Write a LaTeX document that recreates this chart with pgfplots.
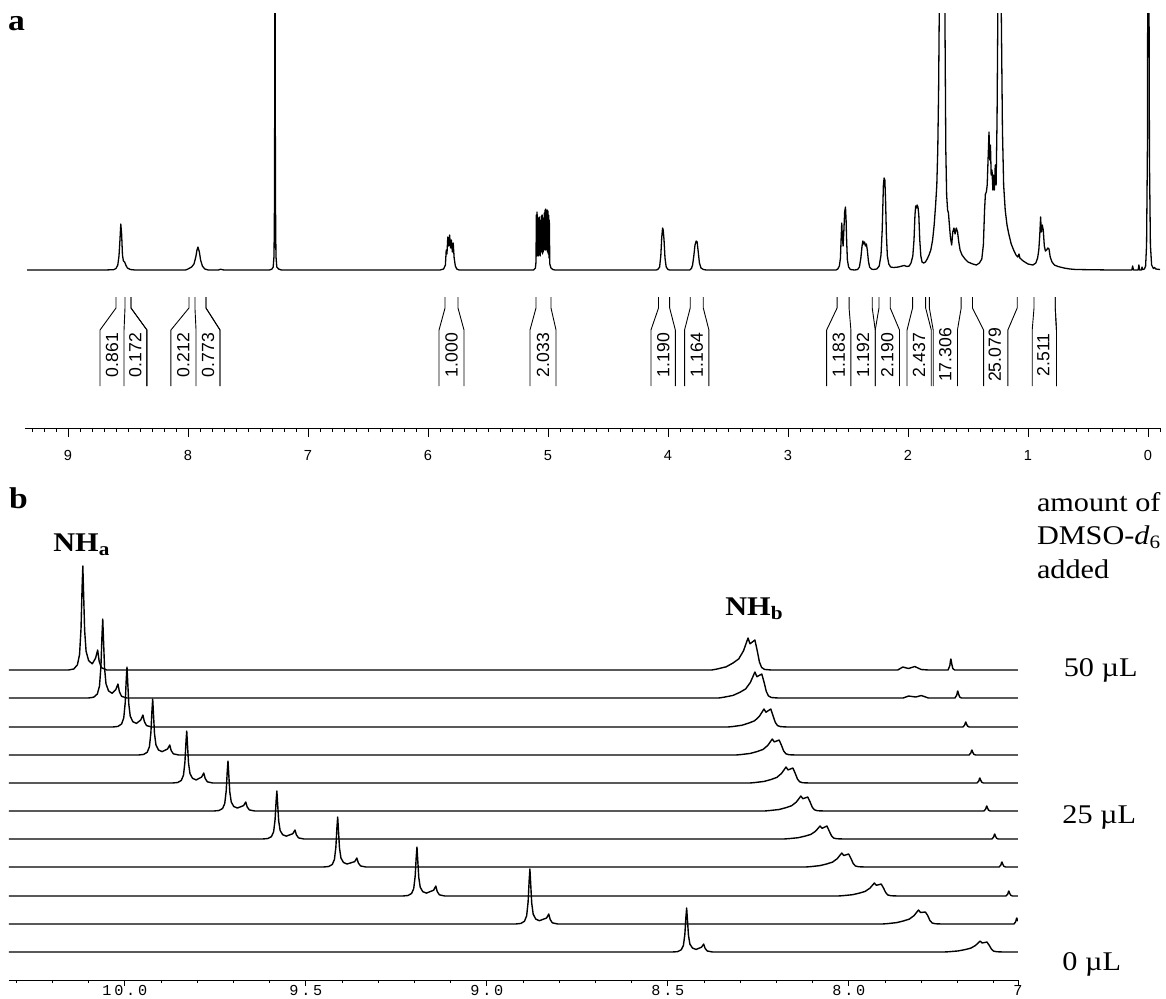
\documentclass[border=0pt]{standalone}
\usepackage{fontspec}
\setmainfont{Liberation Serif}
\newfontfamily\labfont{Liberation Serif}[FakeStretch=1.12]
\newfontfamily\sansA{Liberation Sans}
\newfontfamily\monoB{Liberation Mono}[LetterSpace=18]
\usepackage{pgfplots}
\usepackage{pgfplotstable}
\pgfplotsset{compat=1.18}

% panel a: 1H spectrum, x = ppm, y = intensity above baseline (px of the scan)
\pgfplotstableread{
x y
9.340 0
8.700 0
8.620 0.3
8.600 1.5
8.585 5
8.575 14
8.567 30
8.560 46
8.553 36
8.546 15
8.538 9
8.528 8
8.518 5
8.505 2
8.480 0.5
8.440 0
8.020 0
8.000 1
7.970 3
7.950 6
7.935 13
7.925 20
7.917 23
7.905 18
7.895 10
7.880 4
7.860 1
7.830 0
7.745 0
7.730 0.8
7.700 0
7.320 0
7.300 1
7.290 3
7.283 14
7.279 70
7.275 320
7.271 70
7.267 14
7.260 3
7.245 1
7.220 0
5.900 0
5.870 1
5.855 5
5.848 20
5.842 16
5.835 33
5.828 24
5.820 35
5.812 22
5.805 30
5.797 18
5.790 27
5.782 12
5.772 4
5.760 1
5.740 0
5.120 0
5.105 2
5.100 8
5.097 55
5.094 14
5.091 58
5.088 16
5.085 50
5.082 14
5.079 52
5.076 18
5.073 53
5.070 15
5.067 48
5.064 14
5.061 50
5.058 18
5.055 54
5.052 20
5.049 55
5.046 16
5.043 50
5.040 18
5.037 52
5.034 20
5.031 57
5.028 22
5.025 60
5.022 20
5.019 61
5.016 22
5.013 58
5.010 20
5.007 60
5.004 18
5.001 59
4.998 16
4.995 55
4.992 12
4.989 50
4.985 6
4.975 2
4.960 0.5
4.940 0
4.100 0
4.085 0.5
4.070 3
4.060 14
4.052 33
4.045 42
4.040 40
4.033 30
4.025 12
4.015 3
4.000 0.5
3.985 0
3.820 0
3.805 1.5
3.795 5
3.785 14
3.775 25
3.765 29
3.757 28
3.748 18
3.738 7
3.725 2
3.705 0.5
3.680 0
2.600 0
2.585 1
2.572 4
2.563 12
2.557 32
2.552 47
2.547 33
2.541 24
2.535 38
2.528 58
2.521 63
2.516 50
2.511 28
2.505 10
2.495 3
2.480 0.5
2.445 0
2.420 0.5
2.405 3
2.393 12
2.383 24
2.376 29
2.369 26
2.362 28
2.355 24
2.347 26
2.339 20
2.330 9
2.320 3
2.305 1
2.290 0.5
2.260 1
2.240 4
2.225 15
2.215 40
2.205 85
2.199 92
2.193 90
2.187 70
2.180 35
2.172 14
2.160 6
2.145 3
2.120 2.5
2.080 3
2.050 4
2.030 4.5
2.010 3.5
1.990 4
1.975 7
1.960 14
1.950 30
1.942 55
1.936 64
1.930 62
1.924 65
1.917 63
1.910 55
1.902 30
1.893 14
1.883 8
1.870 7
1.855 8
1.840 11
1.825 15
1.810 20
1.795 30
1.782 45
1.770 65
1.760 85
1.752 120
1.745 180
1.738 280
1.730 400
1.715 420
1.700 350
1.692 250
1.685 120
1.678 75
1.670 60
1.663 57
1.655 45
1.646 32
1.636 25
1.627 38
1.617 42
1.608 36
1.598 42
1.587 38
1.577 28
1.566 20
1.550 15
1.525 11
1.500 8
1.460 6
1.430 5
1.405 7
1.385 11
1.372 25
1.362 60
1.355 76
1.347 78
1.340 85
1.333 110
1.325 138
1.319 110
1.313 125
1.307 95
1.300 100
1.293 80
1.287 95
1.280 80
1.273 105
1.266 85
1.258 150
1.250 280
1.242 420
1.232 400
1.222 250
1.213 140
1.203 85
1.190 60
1.175 45
1.160 36
1.140 26
1.120 20
1.100 15
1.085 13
1.075 16
1.068 12
1.040 9
1.000 6
0.960 5
0.935 7
0.920 12
0.910 20
0.902 35
0.895 53
0.889 38
0.881 45
0.873 40
0.864 24
0.855 19
0.845 20
0.835 22
0.825 21
0.815 13
0.800 8
0.780 5
0.750 3.5
0.700 2
0.650 1
0.600 0.5
0.300 0
0.135 0
0.128 4
0.121 0
0.082 0
0.076 5
0.070 0
0.055 0
0.050 3
0.045 0.5
0.030 1
0.020 4
0.012 25
0.005 120
0.000 420
-0.006 380
-0.012 110
-0.020 25
-0.030 5
-0.045 1.5
-0.055 2.5
-0.065 1
-0.100 0.5
}\specA

% panel b: one table per trace, 50 uL (tA) down to 0 uL (tK)
\pgfplotstableread{
x y
10.320 0
10.156 0
10.141 1.0
10.131 5.2
10.125 15.6
10.121 41.6
10.118 83.2
10.116 104
10.114 78
10.111 39.5
10.107 18.7
10.100 9.4
10.090 6.2
10.081 11.7
10.075 20
10.071 9
10.065 2.4
10.050 0
8.379 0
8.364 1.0
8.339 3.2
8.320 7.0
8.304 11.2
8.291 19.2
8.2785 32
8.273 26.2
8.2595 30
8.253 19.2
8.247 8
8.241 2.6
8.233 0.6
8.214 0
7.865 0
7.851 3
7.835 1.5
7.818 3.5
7.800 0.5
7.780 0
7.726 0
7.721 4.4
7.719 9.9
7.718 11
7.716 6.6
7.713 1.7
7.708 0
7.533 0
}\tA
\pgfplotstableread{
x y
10.320 0
10.101 0
10.086 0.8
10.076 4.0
10.070 11.9
10.066 31.6
10.063 63.2
10.061 79
10.059 59.3
10.056 30.0
10.052 14.2
10.045 7.1
10.035 4.7
10.025 8.4
10.019 14
10.015 6.3
10.009 1.7
9.994 0
8.360 0
8.345 0.8
8.320 2.6
8.301 5.7
8.285 9.1
8.272 15.6
8.2595 26
8.254 21.3
8.2405 24
8.234 15.6
8.228 6.5
8.222 2.1
8.214 0.5
8.195 0
7.850 0
7.835 2
7.815 1
7.800 2.5
7.780 0
7.707 0
7.702 2.8
7.700 6.3
7.699 7
7.697 4.2
7.694 1.1
7.689 0
7.533 0
}\tB
\pgfplotstableread{
x y
10.320 0
10.034 0
10.019 0.6
10.009 3
10.003 9
9.999 24
9.996 48
9.994 60
9.992 45
9.989 22.8
9.985 10.8
9.978 5.4
9.968 3.6
9.956 7.0
9.950 12
9.946 5.4
9.940 1.4
9.925 0
8.335 0
8.320 0.5
8.295 1.8
8.276 4
8.260 6.3
8.247 10.8
8.2345 18
8.229 14.8
8.2155 18
8.209 10.8
8.203 4.5
8.197 1.4
8.189 0.4
8.170 0
7.685 0
7.680 2
7.678 4.5
7.677 5
7.675 3
7.672 0.8
7.667 0
7.533 0
}\tC
\pgfplotstableread{
x y
10.320 0
9.963 0
9.948 0.6
9.938 2.8
9.932 8.4
9.928 22.4
9.925 44.8
9.923 56
9.921 42
9.918 21.3
9.914 10.1
9.907 5.0
9.897 3.4
9.882 6.0
9.876 10
9.872 4.5
9.866 1.2
9.851 0
8.312 0
8.297 0.5
8.272 1.6
8.253 3.5
8.237 5.6
8.224 9.6
8.2115 16
8.206 13.1
8.1925 15
8.186 9.6
8.180 4
8.174 1.3
8.166 0.3
8.147 0
7.668 0
7.663 2
7.661 4.5
7.660 5
7.658 3
7.655 0.8
7.650 0
7.533 0
}\tD
\pgfplotstableread{
x y
10.320 0
9.869 0
9.854 0.5
9.844 2.6
9.838 7.8
9.834 20.8
9.831 41.6
9.829 52
9.827 39
9.824 19.8
9.820 9.4
9.813 4.7
9.803 3.1
9.788 5.9
9.782 10
9.778 4.5
9.772 1.2
9.757 0
8.274 0
8.259 0.5
8.234 1.6
8.215 3.5
8.199 5.6
8.186 9.6
8.1735 16
8.168 13.1
8.1545 15
8.148 9.6
8.142 4
8.136 1.3
8.128 0.3
8.109 0
7.646 0
7.641 2
7.639 4.5
7.638 5
7.636 3
7.633 0.8
7.628 0
7.533 0
}\tE
\pgfplotstableread{
x y
10.320 0
9.755 0
9.740 0.5
9.730 2.5
9.724 7.5
9.720 20
9.717 40
9.715 50
9.713 37.5
9.710 19
9.706 9
9.699 4.5
9.689 3
9.672 5.4
9.666 9
9.662 4.1
9.656 1.1
9.641 0
8.233 0
8.218 0.5
8.193 1.5
8.174 3.3
8.158 5.3
8.145 9
8.1325 15
8.127 12.3
8.1135 14
8.107 9
8.101 3.8
8.095 1.2
8.087 0.3
8.068 0
7.627 0
7.622 2
7.620 4.5
7.619 5
7.617 3
7.614 0.8
7.609 0
7.533 0
}\tF
\pgfplotstableread{
x y
10.320 0
9.620 0
9.605 0.5
9.595 2.4
9.589 7.2
9.585 19.2
9.582 38.4
9.580 48
9.578 36
9.575 18.2
9.571 8.6
9.564 4.3
9.554 2.9
9.536 5.3
9.530 9
9.526 4.1
9.520 1.1
9.505 0
8.180 0
8.165 0.4
8.140 1.3
8.121 2.9
8.105 4.6
8.092 7.8
8.0795 13
8.074 10.7
8.0605 13
8.054 7.8
8.048 3.3
8.042 1
8.034 0.3
8.015 0
7.605 0
7.600 2
7.598 4.5
7.597 5
7.595 3
7.592 0.8
7.587 0
7.533 0
}\tG
\pgfplotstableread{
x y
10.320 0
9.452 0
9.437 0.5
9.427 2.5
9.421 7.5
9.417 20
9.414 40
9.412 50
9.410 37.5
9.407 19
9.403 9
9.396 4.5
9.386 3
9.365 5.4
9.359 9
9.355 4.1
9.349 1.1
9.334 0
8.120 0
8.105 0.4
8.080 1.4
8.061 3.1
8.045 4.9
8.032 8.4
8.0195 14
8.014 11.5
8.0005 13
7.994 8.4
7.988 3.5
7.982 1.1
7.974 0.3
7.955 0
7.585 0
7.580 2
7.578 4.5
7.577 5
7.575 3
7.572 0.8
7.567 0
7.533 0
}\tH
\pgfplotstableread{
x y
10.320 0
9.233 0
9.218 0.5
9.208 2.5
9.202 7.4
9.198 19.6
9.195 39.2
9.193 49
9.191 36.8
9.188 18.6
9.184 8.8
9.177 4.4
9.167 2.9
9.147 5.8
9.141 10
9.137 4.5
9.131 1.2
9.116 0
8.030 0
8.015 0.4
7.990 1.3
7.971 2.9
7.955 4.6
7.942 7.8
7.9295 13
7.924 10.7
7.9105 12
7.904 7.8
7.898 3.3
7.892 1
7.884 0.3
7.865 0
7.566 0
7.561 2
7.559 4.5
7.558 5
7.556 3
7.553 0.8
7.548 0
7.533 0
}\tI
\pgfplotstableread{
x y
10.320 0
8.921 0
8.906 0.6
8.896 2.8
8.890 8.3
8.886 22
8.883 44
8.881 55
8.879 41.3
8.876 20.9
8.872 9.9
8.865 5
8.855 3.3
8.835 6
8.829 10
8.825 4.5
8.819 1.2
8.804 0
7.908 0
7.893 0.4
7.868 1.4
7.849 3.1
7.833 4.9
7.820 8.4
7.8075 14
7.802 11.5
7.7885 12
7.782 8.4
7.776 3.5
7.770 1.1
7.762 0.3
7.743 0
7.544 0
7.539 2.4
7.537 5.4
7.536 6
7.534 3.6
7.533 3
}\tJ
\pgfplotstableread{
x y
10.320 0
8.488 0
8.473 0.4
8.463 2.2
8.457 6.6
8.453 17.6
8.450 35.2
8.448 44
8.446 33
8.443 16.7
8.439 7.9
8.432 4
8.422 2.6
8.407 4.8
8.401 8
8.397 3.6
8.391 1
8.376 0
7.738 0
7.723 0.3
7.698 1.1
7.679 2.4
7.663 3.9
7.650 6.6
7.6375 11
7.632 9
7.6185 10
7.612 6.6
7.606 2.8
7.600 0.9
7.592 0.3
7.573 0
7.533 0
}\tK

\newcommand{\intg}[4]{% top-left, bottom-left, top-right, bottom-right
  \addplot[black, line width=0.45pt] coordinates {(#1,-27)(#1,-38)(#2,-60)(#2,-116)};
  \addplot[black, line width=0.45pt] coordinates {(#3,-27)(#3,-38)(#4,-60)(#4,-116)};}
\newcommand{\ilab}[2]{\node[rotate=90, inner sep=0pt, font=\sansA\fontsize{8.8}{10}\selectfont] at (axis cs:#1,-85) {#2};}

\begin{document}
\begin{tikzpicture}
\useasboundingbox (0,0) rectangle (583pt,-499pt);

% ---------- panel a ----------
\begin{axis}[
  at={(12.4pt,-214pt)}, anchor=south west,
  scale only axis, width=567.6pt, height=207.5pt,
  xmin=-0.1, xmax=9.36, ymin=-158, ymax=257,
  x dir=reverse,
  axis x line*=bottom, axis y line=none, ytick=\empty,
  xtick={0,1,...,9}, xticklabels={0,1,2,3,4,5,6,7,8,9},
  minor xtick={-0.1,0,...,9.3},
  tick align=outside, major tick length=4.5pt, minor tick length=2pt,
  every tick/.style={black, line width=0.4pt},
  axis line style={line width=0.5pt},
  xticklabel style={font=\sansA\fontsize{7.3}{8}\selectfont, anchor=north, yshift=-3pt},
]
\addplot[black, line width=0.65pt, line join=round] table[x=x,y=y] {\specA};
\intg{8.600}{8.733}{8.525}{8.533}
\intg{8.475}{8.342}{8.475}{8.342}
\intg{7.992}{8.142}{7.942}{7.933}
\intg{7.850}{7.733}{7.850}{7.733}
\intg{5.858}{5.908}{5.750}{5.700}
\intg{5.100}{5.150}{4.975}{4.933}
\intg{4.079}{4.142}{3.986}{3.939}
\intg{3.815}{3.862}{3.706}{3.659}
\intg{2.591}{2.678}{2.491}{2.476}
\intg{2.298}{2.273}{2.242}{2.273}
\intg{2.148}{2.071}{1.962}{2.008}
\intg{1.853}{1.806}{1.822}{1.790}
\intg{1.557}{1.588}{1.463}{1.370}
\intg{1.090}{1.168}{0.950}{0.965}
\intg{0.773}{0.763}{0.773}{0.763}
\ilab{8.633}{0.861}
\ilab{8.438}{0.172}
\ilab{8.038}{0.212}
\ilab{7.833}{0.773}
\ilab{5.804}{1.000}
\ilab{5.042}{2.033}
\ilab{4.040}{1.190}
\ilab{3.760}{1.164}
\ilab{2.577}{1.183}
\ilab{2.375}{1.192}
\ilab{2.172}{2.190}
\ilab{1.908}{2.437}
\ilab{1.690}{17.306}
\ilab{1.277}{25.079}
\ilab{0.872}{2.511}
\end{axis}

% ---------- panel b ----------
\begin{axis}[
  at={(4.5pt,-490pt)}, anchor=south west,
  scale only axis, width=504.45pt, height=210pt,
  xmin=7.533, xmax=10.32, ymin=0, ymax=420,
  x dir=reverse,
  axis x line*=bottom, axis y line=none, ytick=\empty,
  xtick={8,8.5,9,9.5,10}, xticklabels={8.0,8.5,9.0,9.5,10.0},
  extra x ticks={7.533}, extra x tick labels={7},
  minor xtick={7.6,7.7,7.8,7.9,8.1,8.2,8.3,8.4,8.6,8.7,8.8,8.9,9.1,9.2,9.3,9.4,9.6,9.7,9.8,9.9,10.1,10.2,10.3},
  tick align=outside, major tick length=3pt, minor tick length=1.5pt,
  every tick/.style={black, line width=0.4pt},
  axis line style={line width=0.5pt},
  xticklabel style={font=\monoB\fontsize{7.6}{8}\selectfont, anchor=north, yshift=4pt},
  trace/.style={black, solid, no marks, line width=0.7pt, line join=round},
]
\addplot[trace] table[x=x, y expr=\thisrow{y}+310] {\tA};
\addplot[trace] table[x=x, y expr=\thisrow{y}+282] {\tB};
\addplot[trace] table[x=x, y expr=\thisrow{y}+253] {\tC};
\addplot[trace] table[x=x, y expr=\thisrow{y}+225] {\tD};
\addplot[trace] table[x=x, y expr=\thisrow{y}+197] {\tE};
\addplot[trace] table[x=x, y expr=\thisrow{y}+169] {\tF};
\addplot[trace] table[x=x, y expr=\thisrow{y}+141] {\tG};
\addplot[trace] table[x=x, y expr=\thisrow{y}+113] {\tH};
\addplot[trace] table[x=x, y expr=\thisrow{y}+84] {\tI};
\addplot[trace] table[x=x, y expr=\thisrow{y}+56] {\tJ};
\addplot[trace] table[x=x, y expr=\thisrow{y}+28] {\tK};
\end{axis}

% ---------- labels ----------
\node[anchor=base, inner sep=0pt, font=\labfont\fontsize{15}{16}\selectfont\bfseries] at (8.25pt,-15pt) {a};
\node[anchor=base, inner sep=0pt, font=\labfont\fontsize{15}{16}\selectfont\bfseries] at (9.25pt,-254pt) {b};
\node[anchor=base west, inner sep=0pt, font=\labfont\fontsize{13.5}{15}\selectfont\bfseries] at (26.5pt,-275.8pt) {NH\textsubscript{a}};
\node[anchor=base west, inner sep=0pt, font=\labfont\fontsize{13.5}{15}\selectfont\bfseries] at (362.5pt,-307.5pt) {NH\textsubscript{b}};
\node[anchor=base west, inner sep=0pt, font=\labfont\fontsize{13.5}{15}\selectfont] at (518.3pt,-255.8pt) {amount of};
\node[anchor=base west, inner sep=0pt, font=\labfont\fontsize{13.5}{15}\selectfont] at (518.3pt,-272.3pt) {DMSO-\textit{d}\textsubscript{6}};
\node[anchor=base west, inner sep=0pt, font=\labfont\fontsize{13.5}{15}\selectfont] at (518.3pt,-289pt) {added};
\node[anchor=base west, inner sep=0pt, font=\labfont\fontsize{13.5}{15}\selectfont] at (531.7pt,-338.3pt) {50 µL};
\node[anchor=base west, inner sep=0pt, font=\labfont\fontsize{13.5}{15}\selectfont] at (531pt,-411.5pt) {25 µL};
\node[anchor=base west, inner sep=0pt, font=\labfont\fontsize{13.5}{15}\selectfont] at (531pt,-485pt) {0 µL};
\end{tikzpicture}
\end{document}
